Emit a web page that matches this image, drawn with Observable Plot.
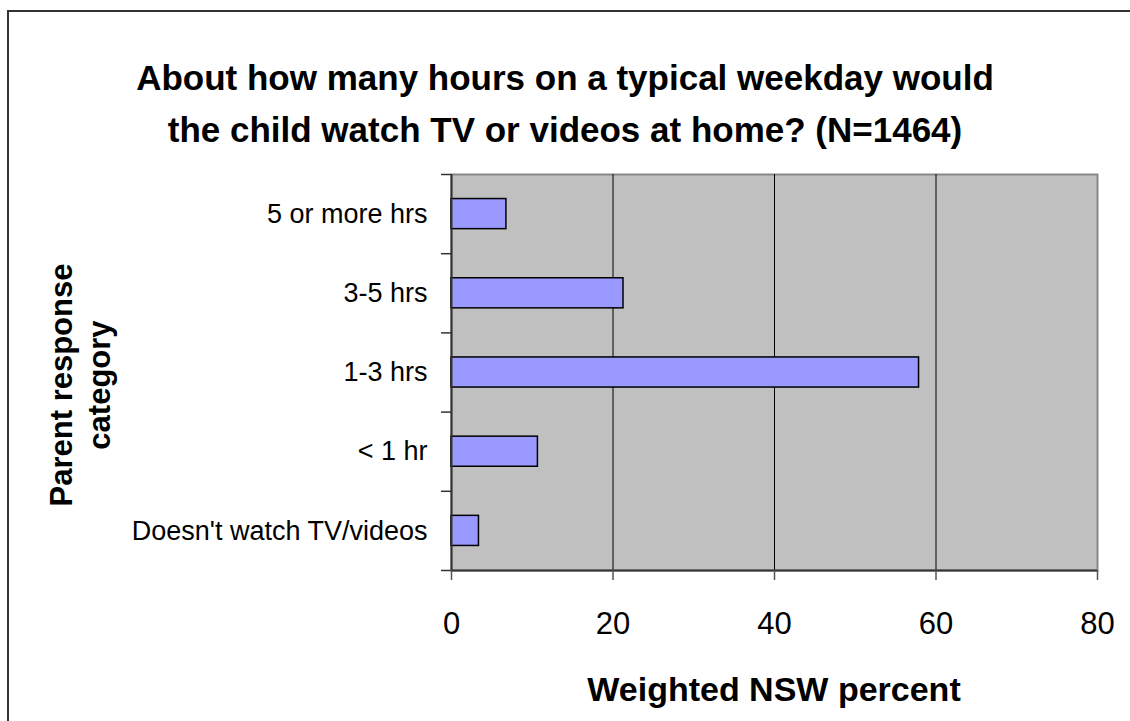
<!DOCTYPE html>
<html>
<head>
<meta charset="utf-8">
<script src="https://cdn.jsdelivr.net/npm/d3@7"></script>
<script src="https://cdn.jsdelivr.net/npm/@observablehq/plot@0.6"></script>
<style>
  html, body { margin: 0; padding: 0; background: #fff; }
  #wrap { position: relative; width: 1130px; height: 721px; overflow: hidden; font-family: "Liberation Sans", Arial, sans-serif; }
  #border { position: absolute; left: 7px; top: 10px; width: 1200px; height: 800px; border-left: 2px solid #333; border-top: 2px solid #333; }
  .title { position: absolute; left: 0; width: 1130px; text-align: center; font-weight: bold; font-size: 35px; color: #000; line-height: 1; }
  #xlabel { position: absolute; left: 451px; width: 646px; top: 672px; text-align: center; font-weight: bold; font-size: 34px; line-height: 1; }
  #ylabel { position: absolute; left: 81px; top: 385px; transform: translate(-50%, -50%) rotate(-90deg); text-align: center; font-weight: bold; font-size: 31px; line-height: 38px; white-space: nowrap; }
  #chart { position: absolute; left: 0; top: 0; }
</style>
</head>
<body>
<div id="wrap">
  <div id="border"></div>
  <div class="title" style="top:60px">About how many hours on a typical weekday would</div>
  <div class="title" style="top:112px">the child watch TV or videos at home? (N=1464)</div>
  <div id="chart"></div>
  <div id="xlabel">Weighted NSW percent</div>
  <div id="ylabel">Parent response<br>category</div>
</div>
<script>
const categories = ["5 or more hrs", "3-5 hrs", "1-3 hrs", "< 1 hr", "Doesn't watch TV/videos"];
const percents = [6.8, 21.3, 57.9, 10.7, 3.4];
const xTicks = [0, 20, 40, 60, 80];

const n = categories.length;
const data = categories.map((c, i) => ({category: c, value: percents[i], pos: n - i - 0.5}));
const centers = data.map(d => d.pos);
const boundaries = d3.range(n + 1);
const labelOf = v => { const d = data.find(e => Math.abs(e.pos - v) < 1e-9); return d ? d.category : ""; };

const chart = Plot.plot({
  width: 1130,
  height: 721,
  marginLeft: 451,
  marginRight: 33,
  marginTop: 174,
  marginBottom: 151,
  style: {background: "transparent", fontFamily: "'Liberation Sans', Arial, sans-serif", overflow: "visible", color: "#000"},
  x: {domain: [0, 80], label: null},
  y: {domain: [0, n], label: null},
  marks: [
    Plot.frame({fill: "#c0c0c0", stroke: "#888", strokeWidth: 2}),
    Plot.gridX(xTicks.filter(t => t > 0 && t < 80), {stroke: "#000", strokeOpacity: 1, strokeWidth: 1}),
    Plot.rectX(data, {x1: 0, x2: "value", y1: d => d.pos - 0.19, y2: d => d.pos + 0.19, fill: "#9999ff", stroke: "#000", strokeWidth: 1.5}),
    Plot.ruleX([0], {stroke: "#333", strokeWidth: 2}),
    Plot.ruleY([0], {stroke: "#333", strokeWidth: 2}),
    Plot.axisY(boundaries, {tickSize: 10, tickFormat: () => "", stroke: "#333", strokeWidth: 1.5, label: null}),
    Plot.axisY(centers, {tickSize: 0, tickPadding: 24, tickFormat: labelOf, fontSize: 27, fill: "#000", label: null}),
    Plot.axisX(xTicks, {tickSize: 10, tickPadding: 31, fontSize: 31, stroke: "#555", strokeWidth: 1.5, fill: "#000", label: null})
  ]
});
document.getElementById("chart").appendChild(chart);
</script>
</body>
</html>
